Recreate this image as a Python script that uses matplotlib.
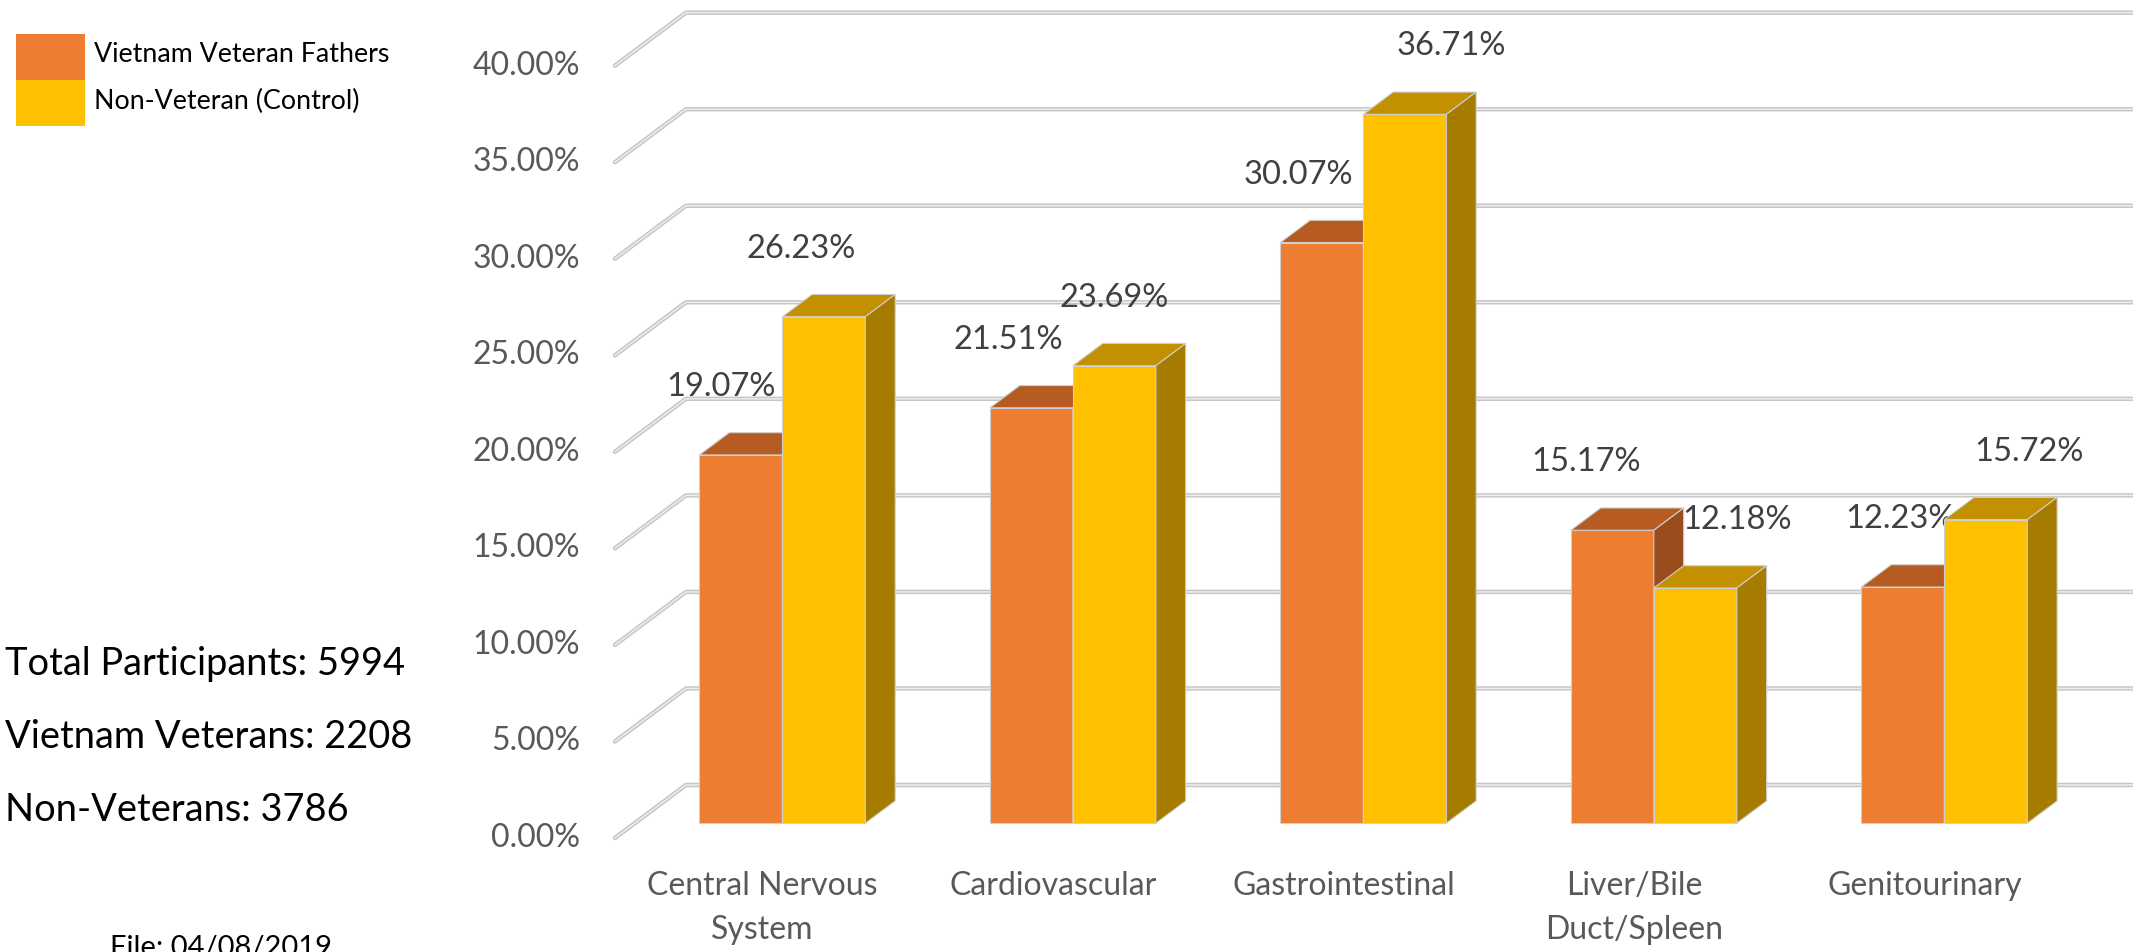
import matplotlib.pyplot as plt
from matplotlib.patches import Polygon, Rectangle

plt.rcParams['font.family'] = ['Lato', 'DejaVu Sans']

# data
categories = ['Central Nervous\nSystem', 'Cardiovascular', 'Gastrointestinal',
              'Liver/Bile\nDuct/Spleen', 'Genitourinary']
veteran = [19.07, 21.51, 30.07, 15.17, 12.23]
control = [26.23, 23.69, 36.71, 12.18, 15.72]
series_names = ['Vietnam Veteran Fathers', 'Non-Veteran (Control)']
yticks = [0, 5, 10, 15, 20, 25, 30, 35, 40]
notes = ['Total Participants: 5994', 'Vietnam Veterans: 2208', 'Non-Veterans: 3786']

# label nudges (category units), mimicking Excel's placement
vet_nudge = [-0.07, -0.08, -0.08, -0.09, -0.01]
ctl_nudge = [-0.08, 0.0, 0.16, 0.145, 0.15]

# fake-3D geometry
DX, DY = 0.2444, 2.745        # depth offset of the floor (x units, % units)
D_FRONT, D_BACK = 0.28, 0.70  # bars sit in the middle of the depth
BW = 0.2857                   # width of one bar
WALL_X = -0.508

ORANGE = ('#ED7D31', '#B65C22', '#9A4D1C')
YELLOW = ('#FFC000', '#C29000', '#A67C00')


def proj(x, y, d):
    return (x + d * DX, y + d * DY)


def draw_box(ax, x0, x1, h, cols, z):
    d0, d1 = D_FRONT, D_BACK
    faces = [
        [proj(x0, 0, d0), proj(x1, 0, d0), proj(x1, h, d0), proj(x0, h, d0)],
        [proj(x0, h, d0), proj(x1, h, d0), proj(x1, h, d1), proj(x0, h, d1)],
        [proj(x1, 0, d0), proj(x1, 0, d1), proj(x1, h, d1), proj(x1, h, d0)],
    ]
    for pts, c in zip(faces, cols):
        ax.add_patch(Polygon(pts, closed=True, facecolor=c, edgecolor='#cfcfcf',
                             linewidth=0.8, zorder=z))


fig = plt.figure(figsize=(21.33, 9.52), dpi=100)
ax = fig.add_axes([0, 0, 1, 1])
ax.set_xlim(-2.625, 4.718)
ax.set_ylim(-5.904, 43.40)
ax.axis('off')

# back wall gridlines
for t in yticks:
    p0 = proj(WALL_X, t, 0)
    p1 = proj(WALL_X, t, 1)
    xs = [p0[0], p1[0], 4.8]
    ys = [p0[1], p1[1], p1[1]]
    ax.plot(xs, ys, color='#c6c6c6', lw=3.2, solid_capstyle='round', zorder=1)
    ax.plot(xs, ys, color='#ededed', lw=1.1, solid_capstyle='round', zorder=1.1)
    ax.text(-0.628, t, f'{t:.2f}%', ha='right', va='center', fontsize=23,
            color='#595959')

# bars
for i in range(len(categories)):
    draw_box(ax, i - BW, i, veteran[i], ORANGE, 3 + i)
    draw_box(ax, i, i + BW, control[i], YELLOW, 3.5 + i)
    ax.text(i - BW / 2 + D_FRONT * DX + vet_nudge[i], veteran[i] + D_FRONT * DY + 3.52,
            f'{veteran[i]:.2f}%', ha='center', va='center', fontsize=23.5, color='#404040')
    ax.text(i + BW / 2 + D_FRONT * DX + ctl_nudge[i], control[i] + D_FRONT * DY + 3.52,
            f'{control[i]:.2f}%', ha='center', va='center', fontsize=23.5, color='#404040')
    ax.text(i, -1.70, categories[i], ha='center', va='top', fontsize=23,
            color='#595959', linespacing=1.58)

# legend
W, H = 2133, 952
for k, (name, col) in enumerate(zip(series_names, [ORANGE[0], YELLOW[0]])):
    top = 34 + 46 * k
    fig.patches.append(Rectangle((15.6 / W, 1 - (top + 46) / H), 69 / W, 46 / H,
                                 transform=fig.transFigure, facecolor=col,
                                 edgecolor='none'))
    fig.text(94 / W, 1 - (top + 21) / H, name, ha='left', va='center',
             fontsize=19.3, color='black')

# notes on the left
for k, s in enumerate(notes):
    fig.text(5 / W, 1 - (664 + 73 * k) / H, s, ha='left', va='center',
             fontsize=27.4, color='black')
fig.text(110 / W, 1 - 935 / H, 'File: 04/08/2019', ha='left', va='top',
         fontsize=21, color='black')

fig.savefig('out.png', dpi=100)
